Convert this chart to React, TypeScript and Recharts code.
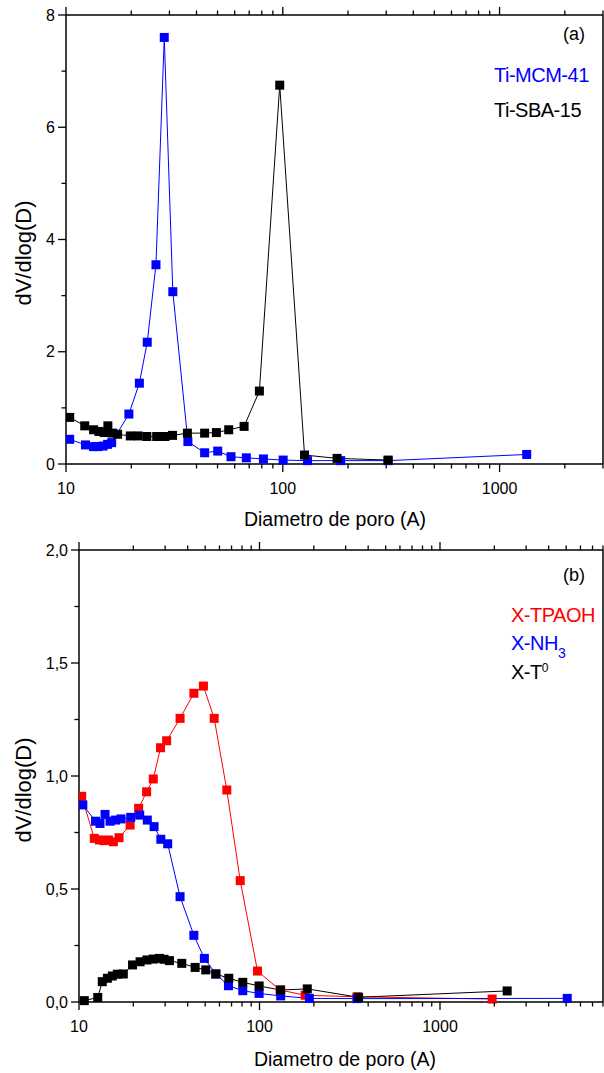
import { LineChart, Line, XAxis, YAxis } from "recharts"

const FONT = "'Liberation Sans', Arial, Helvetica, sans-serif"

// (a) Ti-MCM-41
const mcmDiam = [10.4, 12.3, 13.4, 14.06, 14.83, 15.56, 16.24, 19.5, 21.8, 23.7, 26.0, 28.4, 31.1, 36.5, 43.6, 50.1, 57.7, 67.9, 81.4, 100.4, 130, 185, 306, 1334]
const mcmVal = [0.44, 0.34, 0.31, 0.31, 0.32, 0.35, 0.38, 0.89, 1.44, 2.17, 3.55, 7.6, 3.07, 0.4, 0.2, 0.23, 0.13, 0.11, 0.09, 0.07, 0.06, 0.06, 0.06, 0.17]

// (a) Ti-SBA-15
const sbaDiam = [10.4, 12.2, 13.4, 14.2, 15.0, 15.6, 16.4, 17.3, 19.8, 21.5, 23.6, 26.2, 28.6, 31.0, 36.3, 43.6, 49.4, 56.3, 66.3, 78.0, 96.8, 126, 178, 306]
const sbaVal = [0.83, 0.68, 0.61, 0.58, 0.56, 0.68, 0.55, 0.53, 0.5, 0.5, 0.49, 0.49, 0.49, 0.51, 0.55, 0.55, 0.56, 0.61, 0.67, 1.3, 6.75, 0.16, 0.1, 0.07]

// (b) X-TPAOH
const tpaohDiam = [10.35, 12.16, 12.96, 13.76, 14.54, 15.5, 16.67, 19.2, 21.4, 23.7, 25.8, 28.3, 30.6, 36.3, 43.3, 48.9, 56.1, 65.9, 78.2, 97.5, 130, 179, 347, 1945]
const tpaohVal = [0.91, 0.724, 0.717, 0.714, 0.717, 0.709, 0.727, 0.783, 0.857, 0.93, 0.987, 1.125, 1.156, 1.255, 1.366, 1.398, 1.255, 0.938, 0.537, 0.137, 0.053, 0.03, 0.023, 0.013]

// (b) X-NH3
const nh3Diam = [10.5, 12.35, 13.07, 13.94, 14.86, 15.94, 17.1, 19.35, 21.7, 23.9, 26.06, 28.4, 31.0, 36.3, 43.3, 49.5, 57.3, 67.3, 80.8, 99.5, 131, 189, 347, 5070]
const nh3Val = [0.872, 0.8, 0.79, 0.83, 0.8, 0.805, 0.81, 0.817, 0.827, 0.805, 0.776, 0.72, 0.7, 0.466, 0.295, 0.193, 0.124, 0.072, 0.05, 0.038, 0.027, 0.016, 0.015, 0.016]

// (b) X-T0
const tDiam = [10.7, 12.7, 13.46, 14.36, 15.3, 16.3, 17.6, 19.8, 21.8, 23.8, 25.8, 27.9, 29.6, 31.7, 37.1, 44.0, 50.4, 57.3, 67.6, 80.8, 99.5, 131, 184, 354, 2356]
const tVal = [0.006, 0.02, 0.09, 0.105, 0.115, 0.123, 0.124, 0.164, 0.178, 0.186, 0.19, 0.193, 0.189, 0.183, 0.171, 0.153, 0.142, 0.124, 0.105, 0.087, 0.071, 0.053, 0.058, 0.021, 0.049]

const xTicksA = [10, 20, 30, 40, 50, 60, 70, 80, 90, 100, 200, 300, 400, 500, 600, 700, 800, 900, 1000, 2000, 3000]
const xTicksB = [10, 20, 30, 40, 50, 60, 70, 80, 90, 100, 200, 300, 400, 500, 600, 700, 800, 900, 1000, 2000, 3000, 4000, 5000, 6000, 7000, 8000]
const xMajor = [10, 100, 1000]
const yTicksA = [0, 1, 2, 3, 4, 5, 6, 7, 8]
const yMajorA = [0, 2, 4, 6, 8]
const yTicksB = [0, 0.25, 0.5, 0.75, 1, 1.25, 1.5, 1.75, 2]
const yMajorB = [0, 0.5, 1, 1.5, 2]

const pts = (d: number[], v: number[]) => d.map((x, i) => ({ d: x, v: v[i] }))

function square(color: string, name: string) {
    return (p: any) => (
        <rect key={`${name}-${p.index}`} x={p.cx - 4.5} y={p.cy - 4.5} width={9} height={9} fill={color} />
    )
}

function XTick(props: any) {
    const { x, y, payload, side } = props
    const v = payload.value
    const major = xMajor.includes(v)
    const dir = side === "top" ? -1 : 1
    return (
        <g>
            <line x1={x} x2={x} y1={y} y2={y + dir * (major ? 8 : 4.5)} stroke="#000" strokeWidth={1.3} />
            {major && side !== "top" && (
                <text x={x} y={y + 30} textAnchor="middle" fontSize={16} fontFamily={FONT} fill="#000">{v}</text>
            )}
        </g>
    )
}

function YTick(props: any) {
    const { x, y, payload, side, majors, fmt } = props
    const v = payload.value
    const major = majors.includes(v)
    const dir = side === "right" ? 1 : -1
    return (
        <g>
            <line x1={x} x2={x + dir * (major ? 8 : 4.5)} y1={y} y2={y} stroke="#000" strokeWidth={1.3} />
            {major && side !== "right" && (
                <text x={x - 11} y={y + 5.5} textAnchor="end" fontSize={16} fontFamily={FONT} fill="#000">{fmt(v)}</text>
            )}
        </g>
    )
}

const axisLine = { stroke: "#000", strokeWidth: 1.5 }

export default function App() {
    const fmtA = (v: number) => String(v)
    const fmtB = (v: number) => v.toFixed(1).replace(".", ",")
    const lbl = { fontFamily: FONT, fill: "#000" }

    return (
        <div style={{ position: "absolute", left: 0, top: 0, width: 604, height: 1073, background: "#fff" }}>
            {/* (a) */}
            <div style={{ position: "absolute", left: 0, top: 0 }}>
                <LineChart width={604} height={540} margin={{ top: 14, right: 0, bottom: 0, left: 0 }}>
                    <XAxis dataKey="d" type="number" scale="log" domain={[10, 3000]} allowDataOverflow ticks={xTicksA} interval={0}
                        height={76} tickSize={0} tickMargin={0} tickLine={false} axisLine={axisLine}
                        tick={(p: any) => <XTick {...p} side="bottom" />} />
                    <XAxis xAxisId="top" orientation="top" dataKey="d" type="number" scale="log" domain={[10, 3000]} allowDataOverflow ticks={xTicksA} interval={0}
                        height={1} tickSize={0} tickMargin={0} tickLine={false} axisLine={axisLine}
                        tick={(p: any) => <XTick {...p} side="top" />} />
                    <YAxis type="number" domain={[0, 8]} ticks={yTicksA} interval={0} width={66}
                        tickSize={0} tickMargin={0} tickLine={false} axisLine={axisLine}
                        tick={(p: any) => <YTick {...p} side="left" majors={yMajorA} fmt={fmtA} />} />
                    <YAxis yAxisId="right" orientation="right" type="number" domain={[0, 8]} ticks={yTicksA} interval={0} width={1}
                        tickSize={0} tickMargin={0} tickLine={false} axisLine={axisLine}
                        tick={(p: any) => <YTick {...p} side="right" majors={yMajorA} fmt={fmtA} />} />
                    <Line data={pts(mcmDiam, mcmVal)} dataKey="v" type="linear" stroke="#0000ff" strokeWidth={1}
                        dot={square("#0000ff", "mcm")} activeDot={false} isAnimationActive={false} />
                    <Line data={pts(sbaDiam, sbaVal)} dataKey="v" type="linear" stroke="#000" strokeWidth={1}
                        dot={square("#000", "sba")} activeDot={false} isAnimationActive={false} />
                </LineChart>
            </div>

            {/* (b) */}
            <div style={{ position: "absolute", left: 0, top: 540 }}>
                <LineChart width={604} height={533} margin={{ top: 9, right: 0, bottom: 0, left: 0 }}>
                    <XAxis dataKey="d" type="number" scale="log" domain={[10, 8000]} allowDataOverflow ticks={xTicksB} interval={0}
                        height={71} tickSize={0} tickMargin={0} tickLine={false} axisLine={axisLine}
                        tick={(p: any) => <XTick {...p} side="bottom" />} />
                    <XAxis xAxisId="top" orientation="top" dataKey="d" type="number" scale="log" domain={[10, 8000]} allowDataOverflow ticks={xTicksB} interval={0}
                        height={1} tickSize={0} tickMargin={0} tickLine={false} axisLine={axisLine}
                        tick={(p: any) => <XTick {...p} side="top" />} />
                    <YAxis type="number" domain={[0, 2]} ticks={yTicksB} interval={0} width={79}
                        tickSize={0} tickMargin={0} tickLine={false} axisLine={axisLine}
                        tick={(p: any) => <YTick {...p} side="left" majors={yMajorB} fmt={fmtB} />} />
                    <YAxis yAxisId="right" orientation="right" type="number" domain={[0, 2]} ticks={yTicksB} interval={0} width={1}
                        tickSize={0} tickMargin={0} tickLine={false} axisLine={axisLine}
                        tick={(p: any) => <YTick {...p} side="right" majors={yMajorB} fmt={fmtB} />} />
                    <Line data={pts(tpaohDiam, tpaohVal)} dataKey="v" type="linear" stroke="#ff0000" strokeWidth={1}
                        dot={square("#ff0000", "tpaoh")} activeDot={false} isAnimationActive={false} />
                    <Line data={pts(nh3Diam, nh3Val)} dataKey="v" type="linear" stroke="#0000ff" strokeWidth={1}
                        dot={square("#0000ff", "nh3")} activeDot={false} isAnimationActive={false} />
                    <Line data={pts(tDiam, tVal)} dataKey="v" type="linear" stroke="#000" strokeWidth={1}
                        dot={square("#000", "t0")} activeDot={false} isAnimationActive={false} />
                </LineChart>
            </div>

            {/* titles and in-plot labels */}
            <svg width={604} height={1073} style={{ position: "absolute", left: 0, top: 0, pointerEvents: "none" }}>
                <text x={335} y={526} textAnchor="middle" fontSize={19.5} {...lbl}>Diametro de poro (A)</text>
                <text x={345} y={1066} textAnchor="middle" fontSize={19.5} {...lbl}>Diametro de poro (A)</text>
                <text transform="translate(31,253) rotate(-90)" textAnchor="middle" fontSize={22} {...lbl}>dV/dlog(D)</text>
                <text transform="translate(31,790) rotate(-90)" textAnchor="middle" fontSize={22} {...lbl}>dV/dlog(D)</text>

                <text x={563} y={39.5} fontSize={18} {...lbl}>(a)</text>
                <text x={494} y={81.5} fontSize={20} letterSpacing={-0.5} fontFamily={FONT} fill="#0000ff">Ti-MCM-41</text>
                <text x={494} y={116.5} fontSize={20} letterSpacing={-0.5} {...lbl}>Ti-SBA-15</text>

                <text x={563} y={581} fontSize={18} {...lbl}>(b)</text>
                <text x={511} y={621.5} fontSize={20} letterSpacing={-0.5} fontFamily={FONT} fill="#ff0000">X-TPAOH</text>
                <text x={511} y={649.5} fontSize={20} letterSpacing={-0.5} fontFamily={FONT} fill="#0000ff">
                    X-NH<tspan fontSize={14} dy={8.5}>3</tspan>
                </text>
                <text x={511} y={678.5} fontSize={20} letterSpacing={-0.5} {...lbl}>
                    X-T<tspan fontSize={12} dy={-7}>0</tspan>
                </text>
            </svg>
        </div>
    )
}
